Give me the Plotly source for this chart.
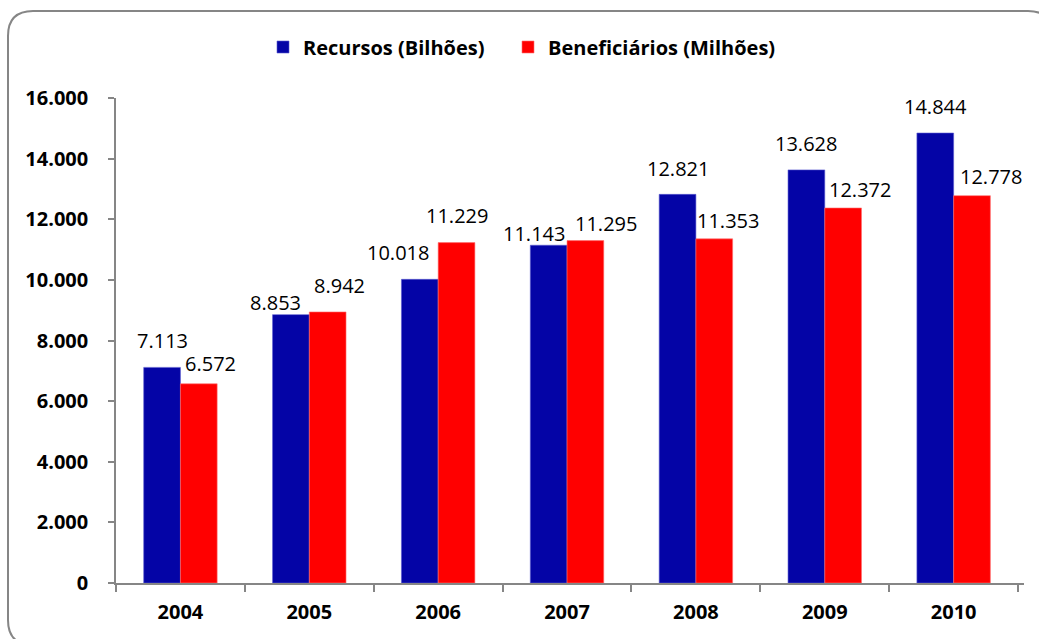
import plotly.graph_objects as go

years = ["2004", "2005", "2006", "2007", "2008", "2009", "2010"]
recursos = [7113, 8853, 10018, 11143, 12821, 13628, 14844]
beneficiarios = [6572, 8942, 11229, 11295, 11353, 12372, 12778]
y_ticks = [0, 2000, 4000, 6000, 8000, 10000, 12000, 14000, 16000]

# label placement tweaks (pixels), mimicking the original's collision avoidance
rec_dx = [0, -15, -22, -15, 0, 0, 0]
rec_gap = [17, 3, 17, 2, 16, 17, 17]
ben_dx = [12, 12, 0, 21, 14, 17, 19]
ben_gap = [11, 17, 18, 8, 9, 9, 10]

BLUE = "#0404A6"
RED = "#FF0000"
GRAY = "#868686"
FONT = "Open Sans"

W, H = 1039, 639
ML, MR, MT, MB = 116, 15, 98, 56
BARGAP = 0.43

def fmt(v):
    return f"{v:,}".replace(",", ".")

fig = go.Figure()
fig.add_trace(go.Bar(name="Recursos (Bilhões)", x=years, y=recursos, legend="legend",
                     marker=dict(color=BLUE, line=dict(color="#5A5AD0", width=0.6))))
fig.add_trace(go.Bar(name="Beneficiários (Milhões)", x=years, y=beneficiarios, legend="legend2",
                     marker=dict(color=RED, line=dict(color="#FF7070", width=0.6))))

bw = (1 - BARGAP) / 2
annotations = []
for i, (r, b) in enumerate(zip(recursos, beneficiarios)):
    annotations.append(dict(x=i - bw / 2, y=r, xref="x", yref="y", text=fmt(r),
                            showarrow=False, yanchor="bottom", xanchor="center",
                            xshift=rec_dx[i], yshift=rec_gap[i] - 6,
                            font=dict(family=FONT, size=20, color="#000")))
    annotations.append(dict(x=i + bw / 2, y=b, xref="x", yref="y", text=fmt(b),
                            showarrow=False, yanchor="bottom", xanchor="center",
                            xshift=ben_dx[i], yshift=ben_gap[i] - 6,
                            font=dict(family=FONT, size=20, color="#000")))

# rounded chart border in paper coordinates
pw, ph = W - ML - MR, H - MT - MB
def px(x):
    return (x - ML) / pw
def py(y):
    return (H - MB - y) / ph
x0, y0, x1, y1, rr = 8, 11, 1053, 645, 25
path = (f"M {px(x0+rr)},{py(y0)} L {px(x1-rr)},{py(y0)} Q {px(x1)},{py(y0)} {px(x1)},{py(y0+rr)} "
        f"L {px(x1)},{py(y1-rr)} Q {px(x1)},{py(y1)} {px(x1-rr)},{py(y1)} "
        f"L {px(x0+rr)},{py(y1)} Q {px(x0)},{py(y1)} {px(x0)},{py(y1-rr)} "
        f"L {px(x0)},{py(y0+rr)} Q {px(x0)},{py(y0)} {px(x0+rr)},{py(y0)} Z")

legend_font = dict(family=FONT, size=20, color="#000", weight="bold")

fig.update_layout(
    width=W, height=H,
    margin=dict(l=ML, r=MR, t=MT, b=MB, autoexpand=False),
    paper_bgcolor="white", plot_bgcolor="white",
    barmode="group", bargap=BARGAP, bargroupgap=0,
    separators=",.",
    font=dict(family=FONT, color="#000"),
    showlegend=True,
    legend=dict(orientation="h", x=px(263), xanchor="left", y=py(47), yanchor="middle",
                font=legend_font, itemwidth=30, bgcolor="rgba(0,0,0,0)"),
    legend2=dict(orientation="h", x=px(508), xanchor="left", y=py(47), yanchor="middle",
                 font=legend_font, itemwidth=30, bgcolor="rgba(0,0,0,0)"),
    xaxis=dict(type="category", showgrid=False, showline=True, linecolor=GRAY, linewidth=1.5,
               ticks="outside", tickson="boundaries", ticklen=7, tickcolor=GRAY, tickwidth=1.5,
               tickfont=dict(family=FONT, size=20, color="#000", weight="bold"),
               ticklabelstandoff=10, zeroline=False),
    yaxis=dict(range=[0, 16000], tickvals=y_ticks, ticktext=[fmt(v) for v in y_ticks],
               showgrid=False, showline=True, linecolor=GRAY, linewidth=1.5,
               ticks="outside", ticklen=6, tickcolor=GRAY, tickwidth=1.5,
               tickfont=dict(family=FONT, size=20, color="#000", weight="bold"),
               ticklabelstandoff=16, zeroline=False),
    annotations=annotations,
    shapes=[dict(type="path", path=path, xref="paper", yref="paper",
                 line=dict(color=GRAY, width=2), fillcolor="rgba(0,0,0,0)", layer="above")],
)

fig.write_html("out.html")
